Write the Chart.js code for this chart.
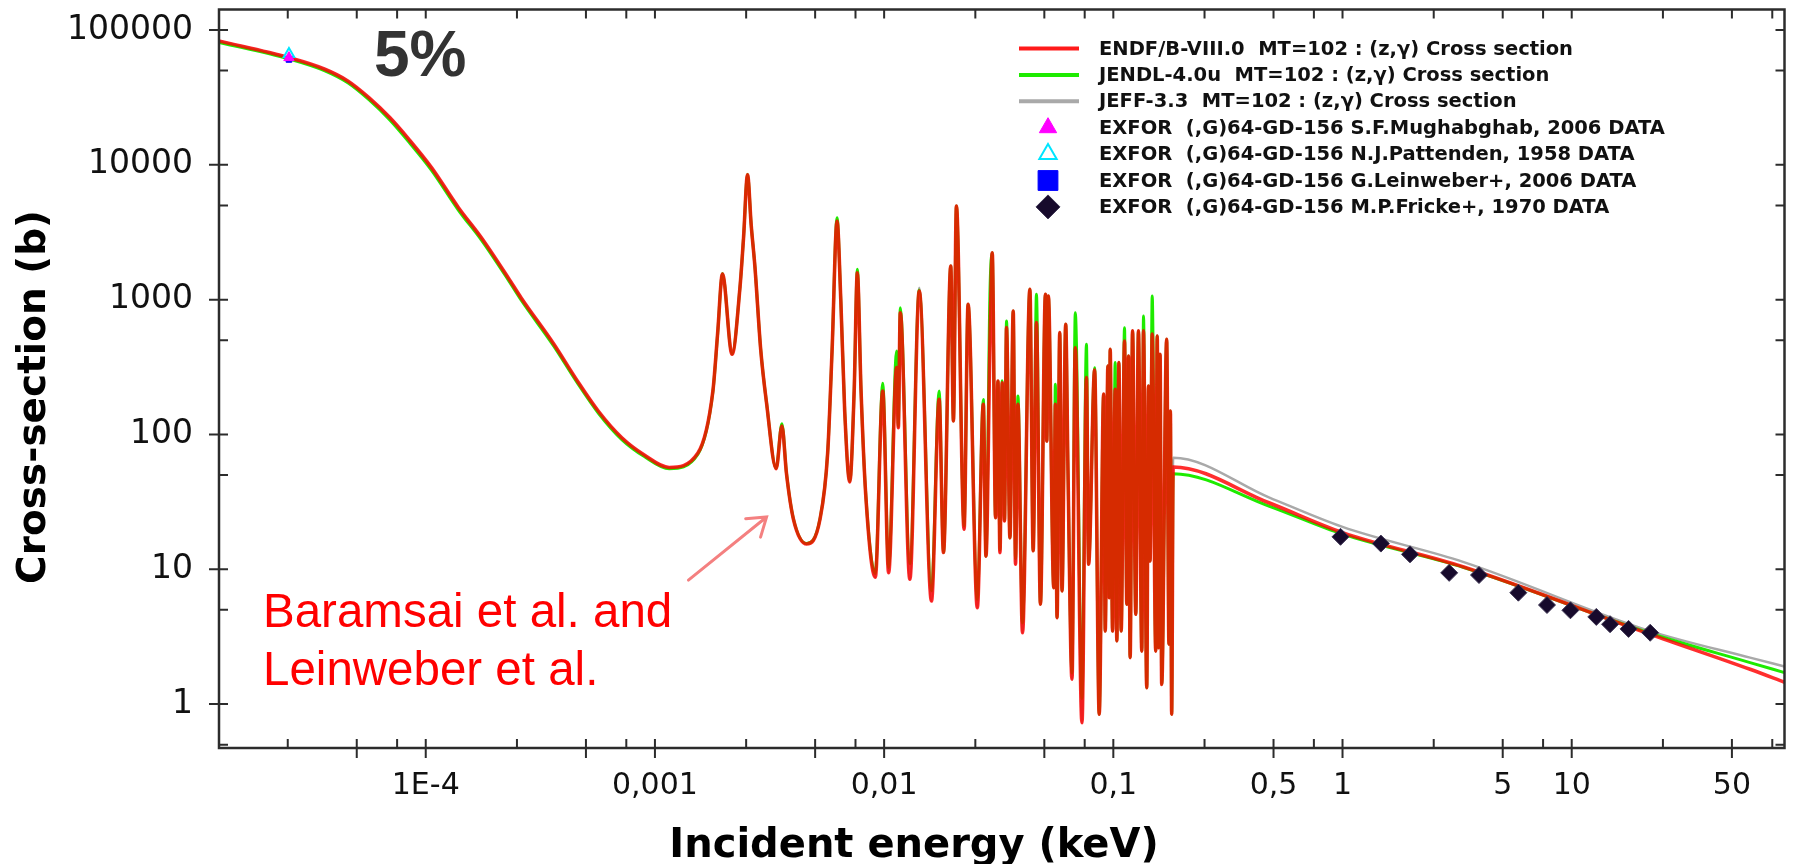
<!DOCTYPE html>
<html lang="en">
<head>
<meta charset="utf-8">
<title>64-Gd-156 (n,γ) cross section</title>
<script src="https://cdn.jsdelivr.net/npm/chart.js@4.4.1/dist/chart.umd.min.js"></script>
<style>
  html, body { margin: 0; background: #ffffff; }
  canvas { display: block; }
</style>
</head>
<body>
<canvas id="xsChart" width="1794" height="864"></canvas>
<script>
// energy grid (keV) shared by the three evaluated libraries
const energyKeV = [
  1.25e-5, 2.53e-5, 3.63e-5, 4.57e-5, 5.65e-5, 6.97e-5, 8.43e-5, 1.06e-4, 1.39e-4, 1.75e-4,
  2.29e-4, 2.61e-4, 3.62e-4, 4.55e-4, 5.68e-4, 7.15e-4, 8.99e-4, 1.154e-3, 1.54e-3, 1.79e-3,
  1.878e-3, 1.97e-3, 2.17e-3, 2.35e-3, 2.436e-3, 2.535e-3, 2.63e-3, 2.73e-3, 2.893e-3, 3.07e-3,
  3.38e-3, 3.58e-3, 3.75e-3, 4.02e-3, 4.59e-3, 5.25e-3, 5.67e-3, 5.93e-3, 6.23e-3, 6.47e-3,
  6.73e-3, 7.08e-3, 7.40e-3, 7.64e-3, 7.93e-3, 8.31e-3, 9.15e-3, 9.86e-3, 0.01046, 0.01134,
  0.01153, 0.01176, 0.01295, 0.01423, 0.01609, 0.01738, 0.01815, 0.01953, 0.02006, 0.02067,
  0.02233, 0.02324, 0.0255, 0.02709, 0.02782, 0.02896, 0.02963, 0.03063, 0.03138, 0.03201,
  0.03275, 0.03351, 0.0342, 0.03539, 0.03658, 0.03743, 0.03835, 0.04016, 0.04324, 0.0447,
  0.04619, 0.04808, 0.05055, 0.05125, 0.05207, 0.05497, 0.05585, 0.05681, 0.05837, 0.05973,
  0.06197, 0.06341, 0.06601, 0.06823, 0.07297, 0.07634, 0.078, 0.08287, 0.08678, 0.09072,
  0.0922, 0.09469, 0.09592, 0.0969, 0.09924, 0.1019, 0.1036, 0.1057, 0.1082, 0.1119,
  0.1145, 0.1165, 0.1184, 0.1213, 0.1253, 0.1287, 0.1331, 0.1354, 0.1399, 0.1423,
  0.1446, 0.1478, 0.1531, 0.1554, 0.1575, 0.1599, 0.1626, 0.1709, 0.1749, 0.1774,
  0.1797, 0.1824, 0.48, 1.0, 3.38, 22, 60, 84.8
];

// capture cross section (b)
const endfB8 = [
  83000, 62400, 51200, 41900, 31500, 22400, 15500, 9530, 4810, 2880,
  1455, 1030, 469, 255, 148, 95, 70.4, 56.9, 72.8, 210,
  567, 1550, 393, 1236, 2890, 8450, 3570, 1760, 428, 170,
  55.7, 115.6, 51, 23.5, 15.4, 23.5, 72.8, 428, 3830, 998,
  148, 44.4, 210, 1580, 210, 35.9, 8.73, 210, 9.43, 313,
  112, 800, 8.42, 1160, 5.81, 182, 13.3, 1777, 126, 4953,
  19.8, 923, 5.19, 167, 12.5, 493, 2230, 24.1, 249, 13.3,
  242, 22.8, 620, 17.1, 824, 10.9, 167, 3.38, 1193, 13.7,
  675, 5.5, 1096, 89.4, 1064, 7.3, 167, 4.37, 569, 6.9,
  656, 53.6, 1.53, 440, 0.727, 264, 10.9, 300, 0.84, 199,
  3.48, 322, 6.15, 428, 3.48, 216, 2.94, 341, 3.48, 493,
  5.5, 382, 2.21, 586, 4.63, 586, 2.47, 586, 1.32, 229,
  11.5, 556, 2.47, 538, 2.62, 393, 1.40, 508, 2.78, 149,
  0.84, 57.4, 31, 18.7, 10.4, 3.29, 1.81, 1.45
];
const jendl40u = [
  81000, 61000, 49800, 40600, 30400, 21500, 14800, 9100, 4600, 2760,
  1400, 990, 452, 246, 143, 92, 68.5, 55.6, 71.5, 207,
  560, 1560, 395, 1240, 2900, 8500, 3580, 1770, 430, 171,
  56, 120, 51.5, 23.7, 15.5, 23.7, 73, 430, 4050, 1000,
  150, 45, 212, 1680, 212, 36.5, 9.3, 240, 10.3, 416,
  115, 872, 11, 1180, 6.9, 210, 13.3, 1777, 126, 4953,
  21, 923, 6.0, 182, 12.5, 1159, 2230, 24.1, 249, 14,
  250, 23, 694, 17.1, 824, 12, 193, 4.0, 1193, 13.7,
  1096, 5.5, 1096, 89.4, 1064, 7.3, 236, 4.37, 569, 6.9,
  656, 53.6, 1.7, 800, 1.1, 467, 10.9, 313, 0.84, 199,
  3.48, 322, 6.15, 428, 3.48, 341, 2.94, 341, 3.48, 619,
  5.5, 382, 2.21, 586, 4.63, 586, 2.47, 756, 1.32, 229,
  11.5, 1064, 2.47, 538, 2.62, 393, 1.40, 508, 2.78, 149,
  0.84, 51.2, 29.3, 18.2, 10.3, 3.35, 2.03, 1.71
];
const jeff33 = [
  83000, 62400, 51200, 41900, 31500, 22400, 15500, 9530, 4810, 2880,
  1455, 1030, 469, 255, 148, 95, 70.4, 56.9, 72.8, 210,
  567, 1550, 393, 1236, 2890, 8450, 3570, 1760, 428, 170,
  55.7, 115.6, 51, 23.5, 15.4, 23.5, 72.8, 428, 3830, 998,
  148, 44.4, 210, 1580, 210, 35.9, 8.73, 210, 9.43, 313,
  112, 800, 8.42, 1227, 5.81, 182, 13.3, 1777, 126, 4953,
  19.8, 923, 5.19, 167, 12.5, 493, 2230, 24.1, 249, 13.3,
  242, 22.8, 620, 17.1, 824, 10.9, 167, 3.38, 1193, 13.7,
  675, 5.5, 1096, 89.4, 1064, 7.3, 167, 4.37, 569, 6.9,
  656, 53.6, 1.53, 440, 0.727, 264, 10.9, 300, 0.84, 199,
  3.48, 322, 6.15, 428, 3.48, 216, 2.94, 341, 3.48, 493,
  5.5, 382, 2.21, 586, 4.63, 586, 2.47, 586, 1.32, 229,
  11.5, 556, 2.47, 538, 2.62, 393, 1.40, 508, 2.78, 149,
  0.84, 67.2, 34, 20.6, 11.3, 3.48, 2.21, 1.9
];

// EXFOR measurements
const mughabghabE = [2.53e-5];
const mughabghabXs = [62400];
const pattendenE = [2.53e-5];
const pattendenXs = [66500];
const leinweberE = [2.53e-5];
const leinweberXs = [60500];
const frickeE = [0.98, 1.47, 1.97, 2.92, 3.94, 5.85, 7.8, 9.87, 12.8, 14.7, 17.7, 22];
const frickeXs = [17.4, 15.5, 12.9, 9.4, 9.06, 6.7, 5.43, 4.96, 4.43, 3.91, 3.61, 3.38];

// axes
const xMin = 1.253e-5, xMax = 84.8;
const yMin = 0.472, yMax = 1.42e5;
const xLabelValues = [1e-4, 1e-3, 0.01, 0.1, 0.5, 1, 5, 10, 50];
const xLabelTexts = ['1E-4', '0,001', '0,01', '0,1', '0,5', '1', '5', '10', '50'];
const xMajorTicks = [5e-5, 1e-4, 5e-4, 1e-3, 5e-3, 0.01, 0.05, 0.1, 0.5, 1, 5, 10, 50];
const xMinorTicks = [2.5e-5, 7.5e-5, 2.5e-4, 7.5e-4, 2.5e-3, 7.5e-3, 0.025, 0.075, 0.25, 0.75, 2.5, 7.5, 25, 75];
const yLabelValues = [1, 10, 100, 1000, 10000, 100000];
const yLabelTexts = ['1', '10', '100', '1000', '10000', '100000'];
const yMinorTicks = [0.5, 5, 50, 500, 5000, 50000];

// note arrow, in data units (keV, b)
const arrowTail = [1.40e-3, 8.3];
const arrowTip = [3.07e-3, 24.4];

const pts = (xs, ys) => xs.map((x, i) => ({ x: x, y: ys[i] }));

// frame with inward ticks on all four sides, outward ones on the main decades
const frameTicks = {
  id: 'frameTicks',
  afterDatasetsDraw(chart) {
    const { ctx, chartArea: a, scales: { x, y } } = chart;
    const inner = 9, outer = 10;
    ctx.save();
    ctx.strokeStyle = '#2c2c2c';
    ctx.lineWidth = 2.5;
    ctx.strokeRect(a.left, a.top, a.right - a.left, a.bottom - a.top);
    ctx.lineWidth = 2;
    ctx.beginPath();
    const tickX = (v, major) => {
      const px = x.getPixelForValue(v);
      ctx.moveTo(px, a.bottom + (major ? outer : 0));
      ctx.lineTo(px, a.bottom - inner);
      ctx.moveTo(px, a.top);
      ctx.lineTo(px, a.top + inner);
    };
    const tickY = (v, major) => {
      const py = y.getPixelForValue(v);
      ctx.moveTo(a.left - (major ? outer : 0), py);
      ctx.lineTo(a.left + inner, py);
      ctx.moveTo(a.right, py);
      ctx.lineTo(a.right - inner, py);
    };
    xMajorTicks.forEach(v => tickX(v, true));
    xMinorTicks.forEach(v => tickX(v, false));
    yLabelValues.forEach(v => tickY(v, true));
    yMinorTicks.forEach(v => tickY(v, false));
    ctx.stroke();
    ctx.restore();
  }
};

// axis titles, notes and the legend box
const overlay = {
  id: 'overlay',
  afterDraw(chart) {
    const { ctx, scales: { x, y } } = chart;
    ctx.save();

    ctx.fillStyle = '#000';
    ctx.font = 'bold 40px "DejaVu Sans"';
    ctx.textAlign = 'center';
    ctx.textBaseline = 'alphabetic';
    ctx.fillText('Incident energy (keV)', 914, 857);
    ctx.font = 'bold 39px "DejaVu Sans"';
    ctx.save();
    ctx.translate(45, 397);
    ctx.rotate(-Math.PI / 2);
    ctx.fillText('Cross-section (b)', 0, 0);
    ctx.restore();

    ctx.textAlign = 'left';
    ctx.fillStyle = '#333333';
    ctx.font = 'bold 64px "Liberation Sans"';
    ctx.fillText('5%', 374, 76);

    ctx.fillStyle = '#ff0000';
    ctx.font = '47.5px "Liberation Sans"';
    ctx.fillText('Baramsai et al. and', 263, 627);
    ctx.fillText('Leinweber et al.', 263, 685);

    // arrow towards the low-energy resonances
    const x0 = x.getPixelForValue(arrowTail[0]), y0 = y.getPixelForValue(arrowTail[1]);
    const x1 = x.getPixelForValue(arrowTip[0]), y1 = y.getPixelForValue(arrowTip[1]);
    const ang = Math.atan2(y0 - y1, x0 - x1);
    const head = 21, spread = 0.6;
    ctx.strokeStyle = 'rgb(244,128,128)';
    ctx.lineWidth = 3;
    ctx.lineCap = 'round';
    ctx.beginPath();
    ctx.moveTo(x0, y0);
    ctx.lineTo(x1, y1);
    ctx.moveTo(x1 + head * Math.cos(ang - spread), y1 + head * Math.sin(ang - spread));
    ctx.lineTo(x1, y1);
    ctx.lineTo(x1 + head * Math.cos(ang + spread), y1 + head * Math.sin(ang + spread));
    ctx.stroke();

    // legend
    const legendRadius = { triangle: 10, rect: 14, rectRot: 12 };
    const rowTop = 48.5, rowStep = 26.4;
    ctx.font = 'bold 19.5px "DejaVu Sans"';
    ctx.textBaseline = 'middle';
    ctx.lineCap = 'butt';
    chart.data.datasets.forEach((ds, i) => {
      const ry = rowTop + i * rowStep;
      if (ds.showLine === false) {
        ctx.fillStyle = ds.pointBackgroundColor;
        ctx.strokeStyle = ds.pointBorderColor;
        ctx.lineWidth = ds.pointBorderWidth || 1;
        Chart.helpers.drawPoint(ctx, {
          pointStyle: ds.pointStyle,
          radius: legendRadius[ds.pointStyle],
          rotation: 0,
          borderWidth: ds.pointBorderWidth || 1
        }, 1048, ry);
      } else {
        ctx.strokeStyle = ds.legendColor || ds.borderColor;
        ctx.lineWidth = 4;
        ctx.beginPath();
        ctx.moveTo(1019, ry);
        ctx.lineTo(1079, ry);
        ctx.stroke();
      }
      ctx.fillStyle = '#111';
      ctx.fillText(ds.label, 1099, ry + 1);
    });

    ctx.restore();
  }
};

const curve = { pointRadius: 0, fill: false, cubicInterpolationMode: 'monotone' };

new Chart(document.getElementById('xsChart'), {
  type: 'line',
  data: {
    datasets: [
      Object.assign({
        label: 'ENDF/B-VIII.0  MT=102 : (z,γ) Cross section',
        data: pts(energyKeV, endfB8),
        borderColor: 'rgba(255,0,0,0.82)',
        legendColor: '#ff1a1a',
        borderWidth: 3.6,
        order: 4
      }, curve),
      Object.assign({
        label: 'JENDL-4.0u  MT=102 : (z,γ) Cross section',
        data: pts(energyKeV, jendl40u),
        borderColor: 'rgb(30,235,0)',
        borderWidth: 3.0,
        order: 5
      }, curve),
      Object.assign({
        label: 'JEFF-3.3  MT=102 : (z,γ) Cross section',
        data: pts(energyKeV, jeff33),
        borderColor: '#a9a9a9',
        borderWidth: 2.4,
        order: 6
      }, curve),
      {
        label: 'EXFOR  (,G)64-GD-156 S.F.Mughabghab, 2006 DATA',
        data: pts(mughabghabE, mughabghabXs),
        showLine: false,
        pointStyle: 'triangle',
        pointRadius: 6,
        pointBackgroundColor: '#ff00ff',
        pointBorderColor: '#ff00ff',
        pointBorderWidth: 1,
        order: 0
      },
      {
        label: 'EXFOR  (,G)64-GD-156 N.J.Pattenden, 1958 DATA',
        data: pts(pattendenE, pattendenXs),
        showLine: false,
        pointStyle: 'triangle',
        pointRadius: 6,
        pointBackgroundColor: '#ffffff',
        pointBorderColor: '#00e5ff',
        pointBorderWidth: 2,
        order: 2
      },
      {
        label: 'EXFOR  (,G)64-GD-156 G.Leinweber+, 2006 DATA',
        data: pts(leinweberE, leinweberXs),
        showLine: false,
        pointStyle: 'rect',
        pointRadius: 4,
        pointBackgroundColor: '#0000ff',
        pointBorderColor: '#0000ff',
        pointBorderWidth: 1,
        order: 1
      },
      {
        label: 'EXFOR  (,G)64-GD-156 M.P.Fricke+, 1970 DATA',
        data: pts(frickeE, frickeXs),
        showLine: false,
        pointStyle: 'rectRot',
        pointRadius: 8.5,
        pointBackgroundColor: '#170a2c',
        pointBorderColor: '#3c3452',
        pointBorderWidth: 1,
        order: 3
      }
    ]
  },
  options: {
    responsive: false,
    animation: false,
    devicePixelRatio: 1,
    layout: { padding: { top: 8, right: 4, bottom: 0, left: 0 } },
    plugins: { legend: { display: false }, tooltip: { enabled: false } },
    scales: {
      x: {
        type: 'logarithmic',
        min: xMin,
        max: xMax,
        bounds: 'data',
        grid: { display: false },
        border: { display: false },
        afterBuildTicks: axis => { axis.ticks = xLabelValues.map(v => ({ value: v })); },
        afterFit: axis => {
          axis.height = 116;
          axis.paddingLeft = 0;
          axis.paddingRight = 0;
        },
        ticks: {
          autoSkip: false,
          maxRotation: 0,
          minRotation: 0,
          padding: 12,
          color: '#111',
          font: { family: 'DejaVu Sans', size: 30 },
          callback: (v, i) => xLabelTexts[i]
        }
      },
      y: {
        type: 'logarithmic',
        min: yMin,
        max: yMax,
        bounds: 'data',
        grid: { display: false },
        border: { display: false },
        afterBuildTicks: axis => { axis.ticks = yLabelValues.map(v => ({ value: v })); },
        afterFit: axis => {
          axis.width = 219;
          axis.paddingTop = 0;
          axis.paddingBottom = 0;
        },
        ticks: {
          autoSkip: false,
          padding: 18,
          color: '#111',
          font: { family: 'DejaVu Sans', size: 33 },
          callback: (v, i) => yLabelTexts[i]
        }
      }
    }
  },
  plugins: [frameTicks, overlay]
});
</script>
</body>
</html>
